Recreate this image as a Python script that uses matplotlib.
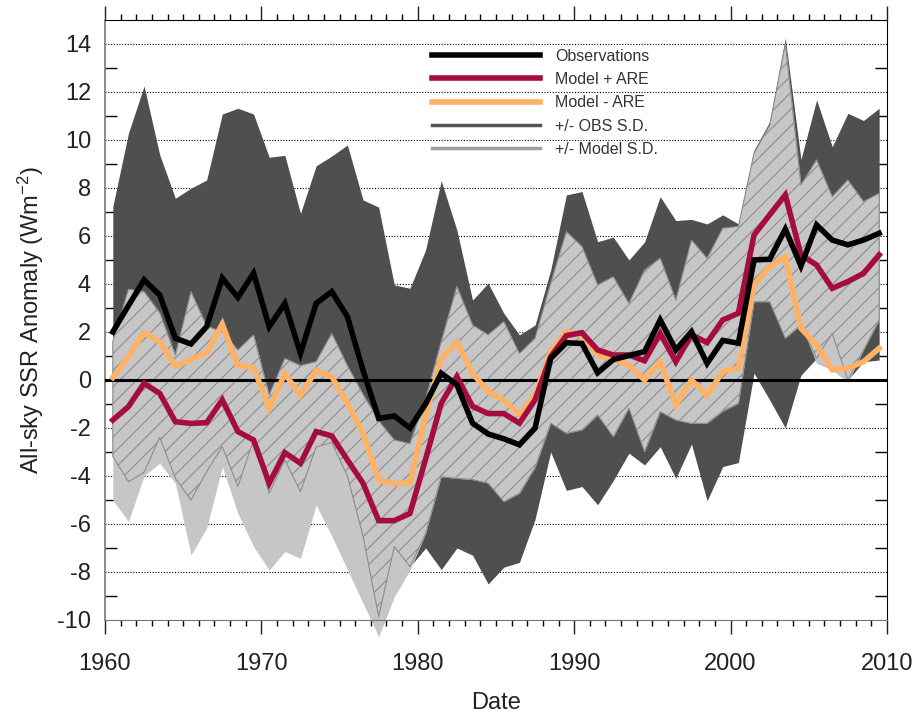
import numpy as np
import matplotlib
matplotlib.use("Agg")
import matplotlib.pyplot as plt
from matplotlib.lines import Line2D
from matplotlib.ticker import MultipleLocator

plt.rcParams["font.family"] = ["Liberation Sans", "DejaVu Sans"]
plt.rcParams["axes.unicode_minus"] = False
plt.rcParams["hatch.linewidth"] = 0.8
plt.rcParams["mathtext.fontset"] = "custom"
plt.rcParams["mathtext.rm"] = "Liberation Sans"
plt.rcParams["mathtext.default"] = "regular"

# annual anomalies, 1960-2009 (plotted at mid-year)
years = np.arange(1960, 2010) + 0.5

observations = [
    2.0, 3.1, 4.17, 3.54, 1.74, 1.5, 2.22, 4.24, 3.44, 4.45,
    2.22, 3.19, 1.11, 3.19, 3.68, 2.64, 0.4, -1.6, -1.5, -2.0,
    -1.0, 0.28, -0.2, -1.8, -2.25, -2.45, -2.7, -2.0, 0.9, 1.55,
    1.52, 0.3, 0.85, 1.02, 1.18, 2.5, 1.25, 2.01, 0.69, 1.65,
    1.53, 5.0, 5.03, 6.28, 4.75, 6.46, 5.83, 5.63, 5.83, 6.11,
]
model_plus_are = [
    -1.67, -1.11, -0.14, -0.56, -1.74, -1.81, -1.78, -0.83, -2.15, -2.5,
    -4.3, -3.03, -3.47, -2.15, -2.33, -3.33, -4.3, -5.86, -5.86, -5.56,
    -3.3, -0.97, 0.14, -1.1, -1.4, -1.4, -1.8, -0.83, 0.97, 1.85,
    1.97, 1.25, 1.04, 1.04, 0.8, 1.94, 0.76, 1.88, 1.56, 2.5,
    2.78, 6.04, 6.88, 7.71, 5.21, 4.79, 3.82, 4.1, 4.44, 5.21,
]
model_minus_are = [
    0.1, 0.97, 1.97, 1.6, 0.56, 0.86, 1.14, 2.33, 0.6, 0.53,
    -1.18, 0.25, -0.63, 0.39, 0.14, -0.97, -2.22, -4.17, -4.33, -4.28,
    -1.5, 0.9, 1.58, 0.28, -0.49, -0.83, -1.46, -0.63, 1.18, 2.01,
    1.87, 1.04, 0.86, 0.62, 0.0, 0.76, -1.04, 0.0, -0.63, 0.35,
    0.49, 3.96, 4.72, 5.14, 2.15, 1.46, 0.42, 0.49, 0.76, 1.32,
]
obs_hi = [
    7.22, 10.28, 12.25, 9.38, 7.57, 7.99, 8.33, 11.08, 11.32, 11.08,
    9.28, 9.36, 6.94, 8.92, 9.33, 9.79, 7.5, 7.2, 3.96, 3.82,
    5.42, 8.3, 6.25, 3.33, 4.03, 2.78, 1.88, 2.29, 4.58, 7.71,
    7.85, 5.76, 5.95, 5.0, 5.75, 7.64, 6.64, 6.69, 6.5, 6.88,
    6.5, 9.58, 10.76, 14.24, 9.19, 11.67, 9.72, 11.11, 10.81, 11.32,
]
obs_lo = [
    -3.19, -4.24, -3.85, -2.39, -4.1, -5.0, -3.82, -2.78, -4.44, -2.5,
    -4.72, -3.33, -4.65, -2.8, -2.6, -4.0, -6.5, -9.86, -6.94, -7.78,
    -7.0, -7.9, -7.0, -7.3, -8.5, -7.8, -7.6, -5.8, -3.0, -4.6,
    -4.44, -5.2, -4.19, -3.05, -3.54, -2.78, -4.1, -2.67, -5.03, -3.61,
    -3.44, 0.28, -0.83, -2.0, 0.2, 0.9, 1.94, 0.0, 0.76, 0.83,
]
model_hi = [
    1.6, 3.78, 3.68, 2.8, 1.04, 3.68, 2.25, 2.0, 1.25, 1.88,
    -0.63, 0.9, 0.6, 0.76, 1.94, 0.6, -0.6, -1.7, -2.5, -2.65,
    -0.8, 1.6, 3.9, 2.29, 1.88, 2.43, 1.1, 1.74, 4.03, 6.18,
    5.56, 3.96, 4.3, 3.19, 4.58, 5.07, 3.33, 5.83, 5.07, 6.32,
    6.4, 9.45, 10.6, 14.0, 8.13, 9.17, 7.64, 8.33, 7.43, 7.78,
]
model_lo = [
    -5.0, -5.9, -4.0, -3.47, -4.3, -7.29, -6.18, -3.61, -5.56, -6.94,
    -7.92, -7.15, -7.43, -5.21, -6.5, -7.9, -9.3, -10.69, -9.03, -7.92,
    -6.4, -4.03, -4.1, -4.15, -4.3, -5.07, -4.72, -3.64, -1.8, -2.22,
    -2.08, -1.46, -2.36, -1.17, -2.99, -1.32, -1.67, -1.81, -1.8, -1.3,
    -0.97, 3.26, 3.26, 1.74, 2.3, 0.69, 0.42, -0.1, 1.25, 2.5,
]

DARK = "#4f4f4f"
LIGHT = "#c6c6c6"
HATCH = "#8c8c8c"
RED = "#a50d40"
ORANGE = "#ffb265"

fig = plt.figure(figsize=(9.16, 7.15), dpi=100)
ax = fig.add_axes([0.1146, 0.1329, 0.8537, 0.8392])

obs_lo_a, obs_hi_a = np.array(obs_lo), np.array(obs_hi)
mod_lo_a, mod_hi_a = np.array(model_lo), np.array(model_hi)
ov_lo = np.maximum(obs_lo_a, mod_lo_a)
ov_hi = np.minimum(obs_hi_a, mod_hi_a)

ax.fill_between(years, obs_lo_a, obs_hi_a, color=DARK, lw=0, zorder=2)
ax.fill_between(years, mod_lo_a, mod_hi_a, color=LIGHT, lw=0, zorder=2,
                clip_on=False)
ax.fill_between(years, ov_lo, ov_hi, where=ov_hi > ov_lo, interpolate=True,
                facecolor=LIGHT, edgecolor=HATCH, hatch="//", lw=0.8, zorder=3)

ax.axhline(0, color="k", lw=2.2, zorder=4)

ax.plot(years, model_minus_are, color=ORANGE, lw=4, zorder=5,
        solid_joinstyle="miter")
ax.plot(years, model_plus_are, color=RED, lw=4, zorder=6,
        solid_joinstyle="miter")
ax.plot(years, observations, color="k", lw=4, zorder=7,
        solid_joinstyle="miter")

ax.set_xlim(1960, 2010)
ax.set_ylim(-10, 15)
ax.xaxis.set_major_locator(MultipleLocator(10))
ax.xaxis.set_minor_locator(MultipleLocator(1))
ax.set_yticks(np.arange(-10, 15, 2))
ax.set_yticks(np.arange(-9, 15, 2), minor=True)

ax.yaxis.grid(True, which="major", color="k", linestyle=(0, (1, 1.5)), lw=0.8)
ax.set_axisbelow(True)

ax.tick_params(axis="x", which="major", direction="out", length=10, width=1,
               top=True, labelsize=17, pad=14, colors="#222222")
ax.tick_params(axis="x", which="minor", direction="out", length=4.5, width=1,
               top=True)
ax.tick_params(axis="y", which="major", length=0, labelsize=17, pad=10,
               right=True, colors="#222222")
ax.tick_params(axis="y", which="minor", direction="in", length=8.5, width=1,
               right=True)

for side in ["left", "bottom"]:
    ax.spines[side].set_color("#777777")
ax.spines["left"].set_linewidth(1.2)

ax.set_xlabel("Date", fontsize=17, color="#222222", labelpad=12)
ax.set_ylabel(r"All-sky SSR Anomaly (Wm$^{-2}$)", fontsize=17,
              color="#222222", labelpad=8)

handles = [
    Line2D([], [], color="k", lw=4),
    Line2D([], [], color=RED, lw=4),
    Line2D([], [], color=ORANGE, lw=4),
    Line2D([], [], color="#555555", lw=2.5),
    Line2D([], [], color="#a0a0a0", lw=2.5),
]
labels = ["Observations", "Model + ARE", "Model - ARE", "+/- OBS S.D.",
          "+/- Model S.D."]
leg = ax.legend(handles, labels, loc="upper left",
                bbox_to_anchor=(0.418, 0.952), frameon=False, fontsize=11.5,
                handlelength=6.8, handletextpad=0.9, labelspacing=0.52,
                borderpad=0, borderaxespad=0)
for t in leg.get_texts():
    t.set_color("#333333")

fig.savefig("out.png", dpi=100)
